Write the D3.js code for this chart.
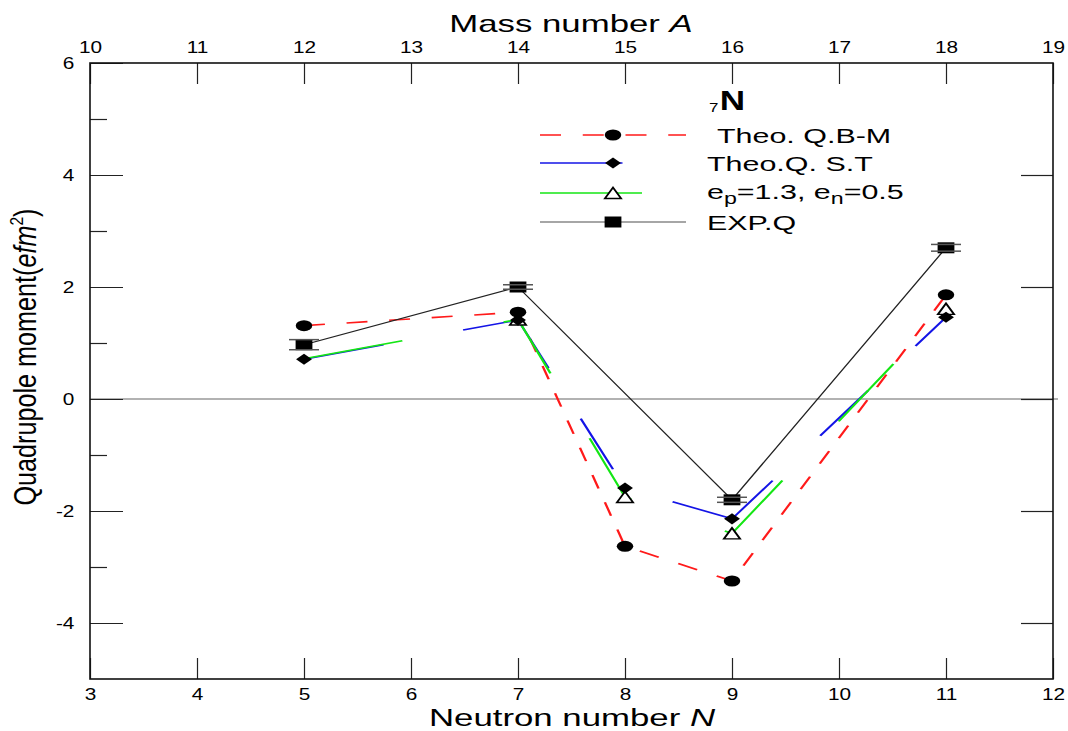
<!DOCTYPE html>
<html>
<head>
<meta charset="utf-8">
<script src="https://cdn.jsdelivr.net/npm/d3@7"></script>
<style>
  body { margin: 0; background: #fff; }
  text { font-family: "Liberation Sans", Arial, sans-serif; fill: #000; }
</style>
</head>
<body>
<div id="chart"></div>
<script>
// neutron numbers and quadrupole moments (e fm^2) for 7N isotopes
const neutrons = [5, 7, 8, 9, 11];
const qbm  = [1.31, 1.55, -2.63, -3.25, 1.86];   // Theo. Q.B-M
const qst  = [0.71, 1.41, -1.59, -2.14, 1.46];   // Theo.Q. S.T
const qeff = [0.72, 1.42, -1.75, -2.40, 1.61];   // ep=1.3, en=0.5
const qeffMarked = [7, 8, 9, 11];                 // triangles shown in the original
const expN   = [5, 7, 9, 11];
const expQ   = [0.97, 2.00, -1.80, 2.70];
const expErr = [0.09, 0.04, 0.045, 0.06];

const nTicks = d3.range(3, 13);
const aTicks = d3.range(10, 20);
const yMajor = [-4, -2, 0, 2, 4, 6];
const yMinor = [-3, -1, 1, 3, 5];

const width = 1068, height = 731;
const S = 1.5;      // horizontal stretch of the original picture
const TS = 1.45;    // stretch for text

const svg = d3.select("#chart").append("svg")
  .attr("width", width).attr("height", height);

const x = d3.scaleLinear().domain([3, 12]).range([90, 1053]);
const xs = d3.scaleLinear().domain([3, 12]).range([90 / S, 1053 / S]);
const xA = d3.scaleLinear().domain([10, 19]).range([90, 1053]);
const y = d3.scaleLinear().domain([-5, 6]).range([679, 63]);

// zero line
svg.append("line")
  .attr("x1", 90).attr("x2", 1058)
  .attr("y1", y(0)).attr("y2", y(0))
  .attr("stroke", "#999").attr("stroke-width", 1.5);

// axes
function styleAxis(g, sx) {
  g.select(".domain").remove();
  g.selectAll(".tick line").attr("stroke", "#222").attr("stroke-width", 1.2);
  g.selectAll(".tick text")
    .attr("font-size", 16)
    .attr("font-family", "Liberation Sans, Arial, sans-serif")
    .attr("fill", "#000")
    .attr("transform", `scale(${sx},1)`);
}
const noMinus = d => String(d);

svg.append("g").attr("transform", `translate(0,${y(-5)})`)
  .call(d3.axisBottom(x).tickValues(nTicks).tickSize(-21).tickPadding(10).tickFormat(noMinus))
  .call(g => styleAxis(g, 1.3));

svg.append("g").attr("transform", `translate(0,${y(6)})`)
  .call(d3.axisTop(xA).tickValues(aTicks).tickSize(-21).tickPadding(10).tickFormat(noMinus))
  .call(g => styleAxis(g, 1.3));

svg.append("g").attr("transform", `translate(${x(3)},0)`)
  .call(d3.axisLeft(y).tickValues(yMajor).tickSize(-33).tickPadding(12).tickFormat(noMinus))
  .call(g => styleAxis(g, 1.3));

svg.append("g").attr("transform", `translate(${x(3)},0)`)
  .call(d3.axisLeft(y).tickValues(yMinor).tickSize(-17).tickFormat(""))
  .call(g => styleAxis(g, 1));

svg.append("g").attr("transform", `translate(${x(12)},0)`)
  .call(d3.axisRight(y).tickValues(yMajor.filter(v => v < 6)).tickSize(-32).tickFormat(""))
  .call(g => styleAxis(g, 1));

// frame
svg.append("rect")
  .attr("x", x(3)).attr("y", y(6))
  .attr("width", x(12) - x(3)).attr("height", y(-5) - y(6))
  .attr("fill", "none").attr("stroke", "#111").attr("stroke-width", 1.6);

// axis titles
const tTop = svg.append("text")
  .attr("transform", `translate(571,32) scale(${TS},1)`)
  .attr("text-anchor", "middle").attr("font-size", 24);
tTop.append("tspan").text("Mass number ");
tTop.append("tspan").attr("font-style", "italic").text("A");

const tBot = svg.append("text")
  .attr("transform", `translate(572,726) scale(${TS},1)`)
  .attr("text-anchor", "middle").attr("font-size", 24);
tBot.append("tspan").text("Neutron number ");
tBot.append("tspan").attr("font-style", "italic").text("N");

const tY = svg.append("text")
  .attr("transform", `translate(36,357) scale(${TS},1) rotate(-90)`)
  .attr("text-anchor", "middle").attr("font-size", 21)
  .attr("textLength", 297).attr("lengthAdjust", "spacingAndGlyphs");
tY.append("tspan").text("Quadrupole moment(");
tY.append("tspan").attr("font-style", "italic").text("efm");
tY.append("tspan").attr("font-size", 13).attr("dy", -9).text("2");
tY.append("tspan").attr("dy", 9).text(")");

// data series (drawn in the stretched frame so dashes and markers match)
const plot = svg.append("g").attr("transform", `scale(${S},1)`);
const line = d3.line().x(d => xs(d.n)).y(d => y(d.v));

const diamond = {
  draw(ctx) {
    const w = 5.3, h = 5.6;
    ctx.moveTo(0, -h); ctx.lineTo(w, 0); ctx.lineTo(0, h); ctx.lineTo(-w, 0); ctx.closePath();
  }
};
const triangle = {
  draw(ctx) {
    ctx.moveTo(0, -5.5); ctx.lineTo(5.4, 5.5); ctx.lineTo(-5.4, 5.5); ctx.closePath();
  }
};
const square = {
  draw(ctx) { ctx.rect(-5.6, -5.5, 11.2, 11); }
};

const series = [
  { ns: neutrons, vals: qbm, color: "#ff1a1a", dash: "14,14.5", width: 1.6,
    sym: d3.symbolCircle, size: Math.PI * 5.5 * 5.5, fill: "#000", stroke: "none" },
  { ns: neutrons, vals: qst, color: "#1414e6", dash: "55,55,90,55", width: 1.6,
    sym: diamond, fill: "#000", stroke: "none" },
  { ns: neutrons, vals: qeff, color: "#14e614", dash: "68,70", width: 1.6,
    sym: triangle, fill: "#fff", stroke: "#000", marked: qeffMarked },
  { ns: expN, vals: expQ, color: "#222", dash: null, width: 1,
    sym: square, fill: "#000", stroke: "none" }
];

series.forEach(s => {
  const pts = s.ns.map((n, i) => ({ n, v: s.vals[i] }));
  plot.append("path")
    .attr("d", line(pts))
    .attr("fill", "none")
    .attr("stroke", s.color)
    .attr("stroke-width", s.width)
    .attr("stroke-dasharray", s.dash);
});

// experimental error bars
const errG = svg.append("g");
expN.forEach((n, i) => {
  const cx = x(n);
  [expQ[i] - expErr[i], expQ[i] + expErr[i]].forEach(v => {
    errG.append("line")
      .attr("x1", cx - 15).attr("x2", cx + 15)
      .attr("y1", y(v)).attr("y2", y(v))
      .attr("stroke", "#555").attr("stroke-width", 1.5);
  });
});

// markers: circles, triangles, diamonds, squares
[0, 2, 1, 3].forEach(k => {
  const s = series[k];
  const pts = s.ns.map((n, i) => ({ n, v: s.vals[i] }))
    .filter(d => !s.marked || s.marked.includes(d.n));
  plot.append("g").selectAll("path")
    .data(pts)
    .join("path")
    .attr("transform", d => `translate(${xs(d.n)},${y(d.v)})`)
    .attr("d", d3.symbol(s.sym, s.size || 64))
    .attr("fill", s.fill)
    .attr("stroke", s.stroke)
    .attr("stroke-width", s.stroke === "none" ? null : 1.4);
});

// legend
const legRows = [135, 163, 193, 222];
series.forEach((s, i) => {
  const ly = legRows[i];
  plot.append("line")
    .attr("x1", 540 / S).attr("x2", 686 / S)
    .attr("y1", ly).attr("y2", ly)
    .attr("stroke", i === 3 ? "#888" : s.color)
    .attr("stroke-width", i === 3 ? 1.5 : s.width)
    .attr("stroke-dasharray", s.dash);
  plot.append("path")
    .attr("transform", `translate(${613 / S},${ly})`)
    .attr("d", d3.symbol(s.sym, s.size || 64))
    .attr("fill", s.fill)
    .attr("stroke", s.stroke)
    .attr("stroke-width", s.stroke === "none" ? null : 1.4);
});

function legText(xp, yp) {
  return svg.append("text")
    .attr("transform", `translate(${xp},${yp}) scale(${TS},1)`)
    .attr("font-size", 21);
}
legText(717, legRows[0] + 7.5).text("Theo. Q.B-M");
legText(707, legRows[1] + 7.5).text("Theo.Q. S.T");
const eff = legText(707, legRows[2] + 5.5);
eff.append("tspan").text("e");
eff.append("tspan").attr("font-size", 16).attr("dy", 5).text("p");
eff.append("tspan").attr("dy", -5).text("=1.3, e");
eff.append("tspan").attr("font-size", 16).attr("dy", 5).text("n");
eff.append("tspan").attr("dy", -5).text("=0.5");
legText(707, legRows[3] + 7.5).text("EXP.Q");

// legend title  7N
const lt = svg.append("text").attr("transform", `translate(709,110) scale(1.3,1)`);
lt.append("tspan").attr("font-size", 13).attr("dy", 2).text("7");
lt.append("tspan").attr("font-size", 27).attr("font-weight", "bold").attr("dx", 1).attr("dy", -2).text("N");
</script>
</body>
</html>
